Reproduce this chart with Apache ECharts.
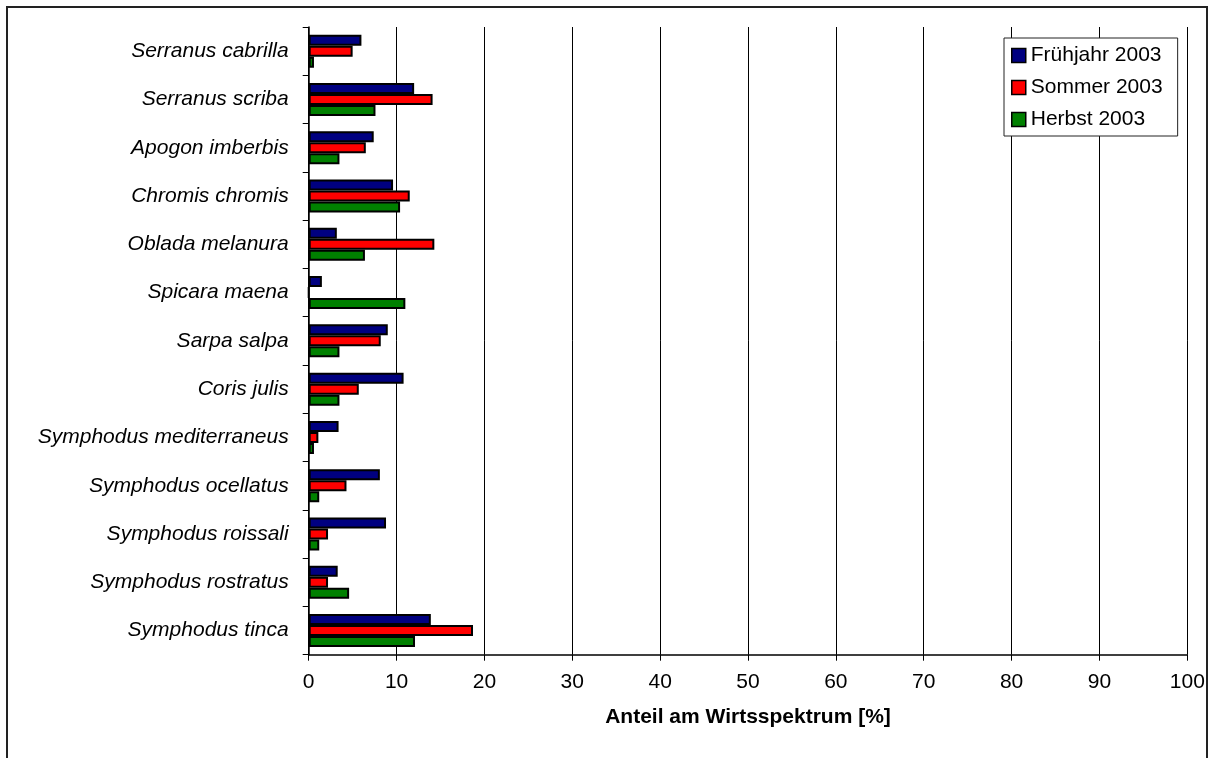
<!DOCTYPE html>
<html>
<head>
<meta charset="utf-8">
<script src="https://cdn.jsdelivr.net/npm/echarts@6/dist/echarts.min.js"></script>
<style>
	html,body{margin:0;padding:0;background:#fff;}
	#main{width:1210px;height:758px;}
</style>
</head>
<body>
<div id="main"></div>
<script type="text/javascript">
	// Arten von oben nach unten
	var arten = ["Serranus cabrilla","Serranus scriba","Apogon imberbis","Chromis chromis","Oblada melanura","Spicara maena","Sarpa salpa","Coris julis","Symphodus mediterraneus","Symphodus ocellatus","Symphodus roissali","Symphodus rostratus","Symphodus tinca"];
	var fruehjahr = [6.0, 12.0, 7.4, 9.6, 3.2, 1.5, 9.0, 10.8, 3.4, 8.1, 8.8, 3.3, 13.9];
	var sommer    = [5.0, 14.1, 6.5, 11.5, 14.3, 0, 8.2, 5.7, 1.1, 4.3, 2.2, 2.2, 18.7];
	var herbst    = [0.6, 7.6, 3.5, 10.4, 6.4, 11.0, 3.5, 3.5, 0.6, 1.2, 1.2, 4.6, 12.1];
	var xTicks = {min:0, max:100, interval:10};

	var myChart = echarts.init(document.getElementById("main"));
	var font = "Liberation Sans";

	function bar(name, data, color){
		return {
			name:name,
			type:'bar',
			data:data,
			barWidth:11,
			barGap:'0%',
			itemStyle:{color:color, borderColor:'#000', borderWidth:2},
			emphasis:{disabled:true}
		};
	}

	var option = {
		animation:false,
		textStyle:{fontFamily:font},
		graphic:[{
			type:'rect',
			shape:{x:7, y:7, width:1200, height:800},
			style:{fill:'none', stroke:'#222', lineWidth:2},
			silent:true
		}],
		grid:{left:308.7, right:22.7, top:27, bottom:103.3},
		legend:{
			orient:'vertical',
			left:1004, top:38,
			padding:[7,15,6,7],
			itemWidth:14, itemHeight:14, itemGap:11,
			backgroundColor:'#fff',
			borderColor:'#222', borderWidth:1,
			icon:'rect',
			itemStyle:{borderColor:'#000', borderWidth:1.5},
			textStyle:{fontFamily:font, fontSize:21, color:'#000'},
			data:["Frühjahr 2003","Sommer 2003","Herbst 2003"]
		},
		xAxis:{
			type:'value',
			min:xTicks.min, max:xTicks.max, interval:xTicks.interval,
			name:'Anteil am Wirtsspektrum [%]',
			nameLocation:'middle',
			nameGap:52,
			nameTextStyle:{fontFamily:font, fontSize:21, fontWeight:'bold', color:'#000'},
			axisLine:{show:true, lineStyle:{color:'#000', width:1.5}},
			axisTick:{show:true, length:6, lineStyle:{color:'#000'}},
			axisLabel:{fontFamily:font, fontSize:21, color:'#000', margin:17},
			splitLine:{show:true, lineStyle:{color:'#000', width:1}}
		},
		yAxis:{
			type:'category',
			inverse:true,
			data:arten,
			axisLine:{show:true, lineStyle:{color:'#000', width:1.5}},
			axisTick:{show:true, length:6, lineStyle:{color:'#000'}},
			axisLabel:{fontFamily:font, fontSize:21, fontStyle:'italic', color:'#000', margin:20},
			splitLine:{show:false}
		},
		series:[
			bar("Frühjahr 2003", fruehjahr, '#000080'),
			bar("Sommer 2003", sommer, '#ff0000'),
			bar("Herbst 2003", herbst, '#008000')
		]
	};

	myChart.setOption(option);
</script>
</body>
</html>
